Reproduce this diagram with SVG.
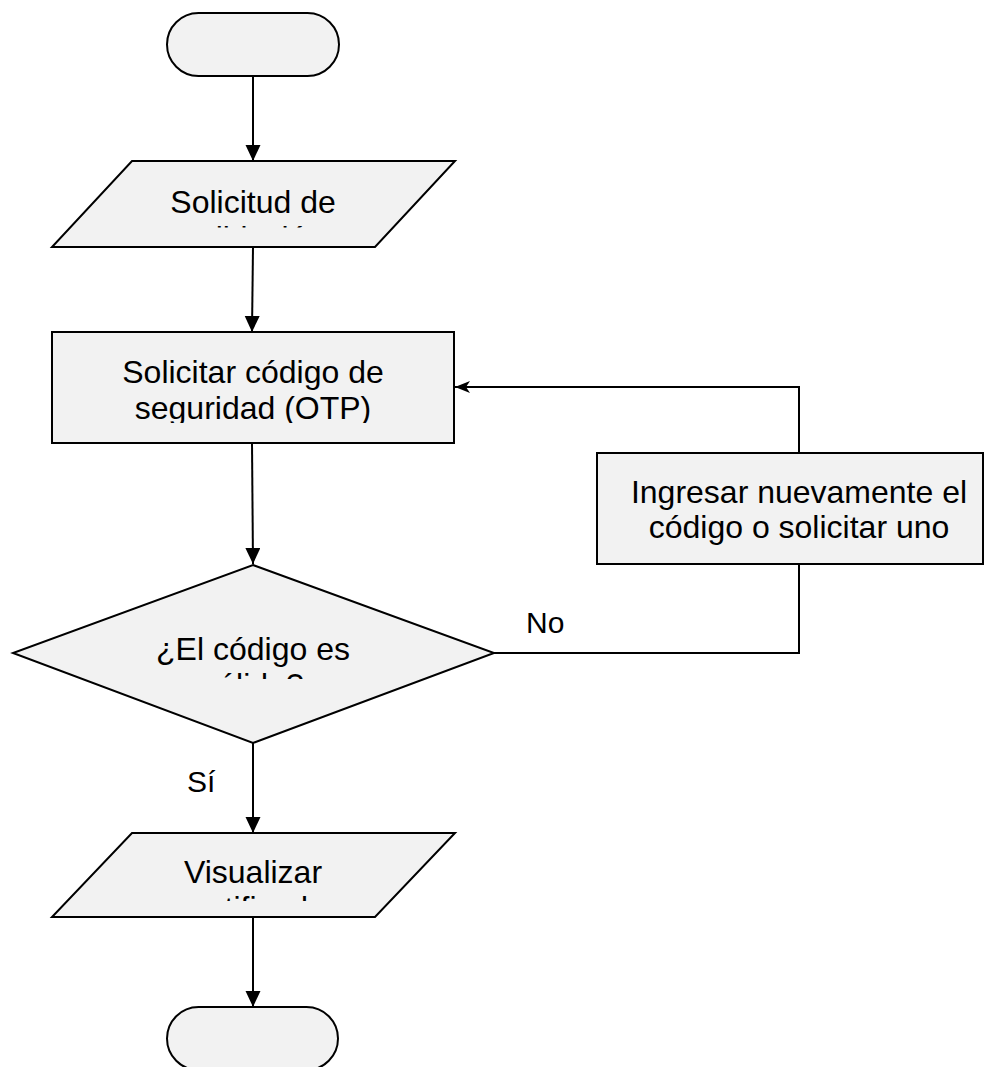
<svg xmlns="http://www.w3.org/2000/svg" width="987" height="1067" viewBox="0 0 987 1067">
<style>
.shape{fill:#f2f2f2;stroke:#000;stroke-width:2}
.conn{fill:none;stroke:#000;stroke-width:2}
.t{font-family:"Liberation Sans",Arial,sans-serif;font-size:32px;fill:#000;text-anchor:middle}
.lbl{font-family:"Liberation Sans",Arial,sans-serif;font-size:30px;fill:#000}
</style>
<defs>
<marker id="tri" markerUnits="userSpaceOnUse" markerWidth="17" markerHeight="16" refX="16" refY="7.5" orient="auto">
<path d="M0,0 L16,7.5 L0,15 z" fill="#000"/>
</marker>
<marker id="barb" markerUnits="userSpaceOnUse" markerWidth="16" markerHeight="14" refX="15" refY="6" orient="auto">
<path d="M0,0 L15,6 L0,12 L4,6 z" fill="#000"/>
</marker>
<clipPath id="c1"><rect x="40" y="160" width="420" height="67.5"/></clipPath>
<clipPath id="c2"><rect x="52" y="332" width="402" height="91"/></clipPath>
<clipPath id="c3"><rect x="10" y="560" width="490" height="119"/></clipPath>
<clipPath id="c4"><rect x="40" y="832" width="420" height="69"/></clipPath>
</defs>
<g id="connectors">
<line class="conn" x1="253" y1="76" x2="253" y2="161" marker-end="url(#tri)"/>
<line class="conn" x1="253" y1="247" x2="252" y2="332" marker-end="url(#tri)"/>
<line class="conn" x1="252" y1="443" x2="253" y2="564" marker-end="url(#tri)"/>
<line class="conn" x1="253" y1="743" x2="253" y2="833" marker-end="url(#tri)"/>
<line class="conn" x1="253" y1="917" x2="253" y2="1007" marker-end="url(#tri)"/>
<polyline class="conn" points="494,653 799,653 799,387 455,387" marker-end="url(#barb)"/>
<text class="lbl" x="526" y="633">No</text>
<text class="lbl" x="187" y="792">Sí</text>
</g>
<g id="start">
<rect class="shape" x="167" y="13" width="172" height="63" rx="31.5" ry="31.5"/>
</g>
<g id="solicitud">
<polygon class="shape" points="132,161 455,161 375,247 52,247"/>
<g clip-path="url(#c1)">
<text class="t" x="253" y="213">Solicitud de</text>
<text class="t" x="253" y="249">validación</text>
</g>
</g>
<g id="solicitar-otp">
<rect class="shape" x="52" y="332" width="402" height="111"/>
<g clip-path="url(#c2)">
<text class="t" x="253" y="383">Solicitar código de</text>
<text class="t" x="253" y="419">seguridad (OTP)</text>
</g>
</g>
<g id="decision">
<polygon class="shape" points="253,565 494,653 253,743 13,653"/>
<g clip-path="url(#c3)">
<text class="t" x="253" y="660">¿El código es</text>
<text class="t" x="253" y="696">válido?</text>
</g>
</g>
<g id="reingresar">
<rect class="shape" x="597" y="453" width="386" height="111"/>
<text class="t" x="799" y="503">Ingresar nuevamente el</text>
<text class="t" x="799" y="538">código o solicitar uno</text>
</g>
<g id="visualizar">
<polygon class="shape" points="132,833 455,833 375,917 52,917"/>
<g clip-path="url(#c4)">
<text class="t" x="253" y="883">Visualizar</text>
<text class="t" x="253" y="919">certificado</text>
</g>
</g>
<g id="end">
<rect class="shape" x="167" y="1007" width="171" height="63" rx="31.5" ry="31.5"/>
</g>
</svg>
